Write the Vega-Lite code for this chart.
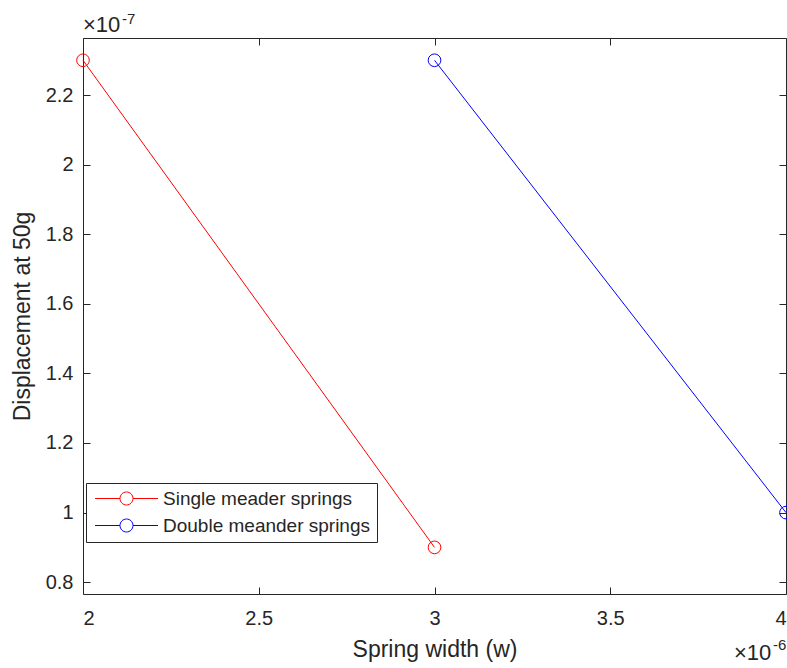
{
  "$schema": "https://vega.github.io/schema/vega-lite/v6.json",
  "width": 703,
  "height": 556,
  "autosize": {"type": "none"},
  "padding": {"left": 83, "top": 38, "right": 1, "bottom": 74},
  "background": "white",
  "config": {
    "font": "Liberation Sans",
    "view": {"stroke": "#262626", "strokeWidth": 1},
    "axis": {
      "grid": false,
      "domain": false,
      "tickColor": "#262626",
      "tickSize": -7,
      "tickWidth": 1,
      "labelColor": "#262626",
      "labelFontSize": 20,
      "titleColor": "#262626",
      "titleFontSize": 23,
      "titleFontWeight": "normal"
    }
  },
  "data": {
    "values": [
      {"series": "Single meader springs", "w": 2e-6, "d": 2.3e-7},
      {"series": "Single meader springs", "w": 3e-6, "d": 0.9e-7},
      {"series": "Double meander springs", "w": 3e-6, "d": 2.3e-7},
      {"series": "Double meander springs", "w": 4e-6, "d": 1.0e-7}
    ]
  },
  "layer": [
    {
      "mark": {"type": "line", "strokeWidth": 1, "clip": false, "point": {"filled": false, "size": 160, "strokeWidth": 1}},
      "encoding": {
        "x": {
          "field": "w", "type": "quantitative",
          "scale": {"domain": [2e-6, 4e-6], "nice": false, "zero": false},
          "axis": {
            "orient": "bottom",
            "values": [2e-6, 2.5e-6, 3e-6, 3.5e-6, 4e-6],
            "labelExpr": "format(datum.value*1e6,'~g')",
            "labelPadding": 21,
            "title": "Spring width (w)",
            "titlePadding": 10
          }
        },
        "y": {
          "field": "d", "type": "quantitative",
          "scale": {"domain": [0.766e-7, 2.364e-7], "nice": false, "zero": false},
          "axis": {
            "orient": "left",
            "values": [0.8e-7, 1.0e-7, 1.2e-7, 1.4e-7, 1.6e-7, 1.8e-7, 2.0e-7, 2.2e-7],
            "labelExpr": "format(datum.value*1e7,'~g')",
            "labelPadding": 17,
            "title": "Displacement at 50g",
            "titlePadding": 11
          }
        },
        "color": {
          "field": "series", "type": "nominal",
          "scale": {"domain": ["Single meader springs", "Double meander springs"], "range": ["#ff0000", "#0000ff"]},
          "legend": {
            "title": null,
            "orient": "none",
            "legendX": 3,
            "legendY": 445,
            "fillColor": "white",
            "strokeColor": "#262626",
            "padding": 6,
            "labelFontSize": 19,
            "labelColor": "#262626",
            "labelLimit": 0,
            "labelOffset": 27,
            "rowPadding": 7,
            "symbolOffset": 25,
            "symbolType": "M-4.85,0H-1M1,0H4.85M-1,0A1,1,0,1,1,1,0A1,1,0,1,1,-1,0Z",
            "symbolSize": 169,
            "symbolStrokeWidth": 1,
            "symbolFillColor": "transparent"
          }
        }
      }
    },
    {
      "mark": {"type": "point", "opacity": 0},
      "encoding": {
        "x": {
          "field": "w", "type": "quantitative",
          "axis": {"orient": "top", "values": [2e-6, 2.5e-6, 3e-6, 3.5e-6, 4e-6], "labels": false, "title": null}
        },
        "y": {
          "field": "d", "type": "quantitative",
          "axis": {"orient": "right", "values": [0.8e-7, 1.0e-7, 1.2e-7, 1.4e-7, 1.6e-7, 1.8e-7, 2.0e-7, 2.2e-7], "labels": false, "title": null}
        }
      }
    },
    {
      "data": {"values": [{"base": "×10", "exp": "-7"}]},
      "layer": [
        {
          "mark": {"type": "text", "align": "left", "baseline": "alphabetic", "fontSize": 22, "color": "#262626", "dx": 0, "dy": -6},
          "encoding": {
            "x": {"datum": 2e-6, "type": "quantitative", "axis": null},
            "y": {"datum": 2.364e-7, "type": "quantitative", "axis": null},
            "text": {"field": "base"}
          }
        },
        {
          "mark": {"type": "text", "align": "left", "baseline": "alphabetic", "fontSize": 15, "color": "#262626", "dx": 39, "dy": -14},
          "encoding": {
            "x": {"datum": 2e-6, "type": "quantitative", "axis": null},
            "y": {"datum": 2.364e-7, "type": "quantitative", "axis": null},
            "text": {"field": "exp"}
          }
        }
      ]
    },
    {
      "data": {"values": [{"base": "×10", "exp": "-6"}]},
      "layer": [
        {
          "mark": {"type": "text", "align": "left", "baseline": "alphabetic", "fontSize": 22, "color": "#262626", "dx": -52, "dy": 66},
          "encoding": {
            "x": {"datum": 4e-6, "type": "quantitative", "axis": null},
            "y": {"datum": 0.766e-7, "type": "quantitative", "axis": null},
            "text": {"field": "base"}
          }
        },
        {
          "mark": {"type": "text", "align": "left", "baseline": "alphabetic", "fontSize": 15, "color": "#262626", "dx": -13, "dy": 56},
          "encoding": {
            "x": {"datum": 4e-6, "type": "quantitative", "axis": null},
            "y": {"datum": 0.766e-7, "type": "quantitative", "axis": null},
            "text": {"field": "exp"}
          }
        }
      ]
    }
  ],
  "resolve": {"axis": {"x": "independent", "y": "independent"}}
}
